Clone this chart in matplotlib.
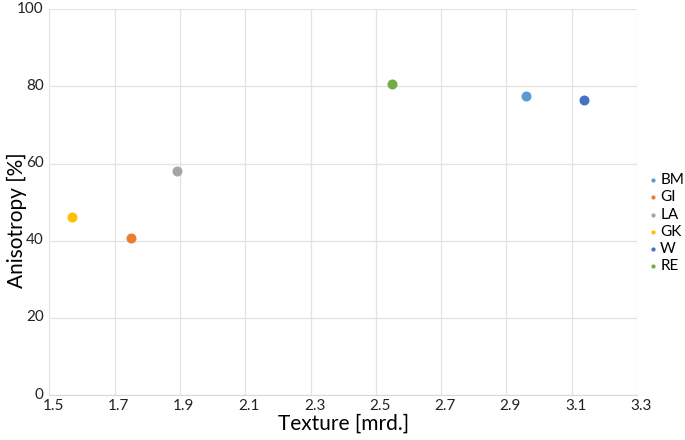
import matplotlib.pyplot as plt
import matplotlib.transforms as mtransforms
import numpy as np

plt.rcParams['font.family'] = ['Lato', 'DejaVu Sans']

# samples
names = ['BM', 'GI', 'LA', 'GK', 'W', 'RE']
texture = [2.959, 1.75, 1.892, 1.569, 3.139, 2.549]
anisotropy = [77.6, 40.7, 58.0, 46.1, 76.4, 80.6]
colors = ['#5B9BD5', '#ED7D31', '#A5A5A5', '#FFC000', '#4472C4', '#70AD47']

xticks = np.arange(1.5, 3.31, 0.2)
yticks = np.arange(0, 101, 20)

fig = plt.figure(figsize=(6.85, 4.4), dpi=100)
ax = fig.add_axes([0.072, 0.102, 0.858, 0.877])

for n, x, y, c in zip(names, texture, anisotropy, colors):
    ax.scatter(x, y, s=52, color=c, label=n, zorder=3, linewidths=0)

ax.set_xlim(1.5, 3.3)
ax.set_ylim(0, 100)
ax.set_xticks(xticks)
ax.set_xticklabels(['{:.1f}'.format(v) for v in xticks])
ax.set_yticks(yticks)
ax.grid(True, color='#E3E3E3', linewidth=0.9)
ax.set_axisbelow(True)
for s in ['top', 'right', 'left']:
    ax.spines[s].set_visible(False)
ax.spines['bottom'].set_color('#D9D9D9')
ax.tick_params(length=0, labelsize=11, colors='#222222')
ax.tick_params(axis='x', pad=3)
ax.tick_params(axis='y', pad=4)

# excel puts the x labels a touch to the right
shift = mtransforms.ScaledTranslation(4 / 100, 0, fig.dpi_scale_trans)
for lab in ax.get_xticklabels():
    lab.set_transform(lab.get_transform() + shift)
for lab in ax.get_yticklabels():
    lab.set_transform(lab.get_transform() + mtransforms.ScaledTranslation(0, 2 / 100, fig.dpi_scale_trans))

ax.set_xlabel('Texture [mrd.]', fontsize=15, labelpad=0)
ax.set_ylabel('Anisotropy [%]', fontsize=15)
ax.yaxis.set_label_coords(0.04, 0.5, transform=fig.transFigure)

ax.legend(loc='center left', bbox_to_anchor=(0.947, 0.493), bbox_transform=fig.transFigure,
          frameon=False, fontsize=11, handlelength=0.6, handletextpad=0.15,
          labelspacing=0.2, markerscale=0.42, borderaxespad=0, borderpad=0)

fig.savefig('out.png', dpi=100)
